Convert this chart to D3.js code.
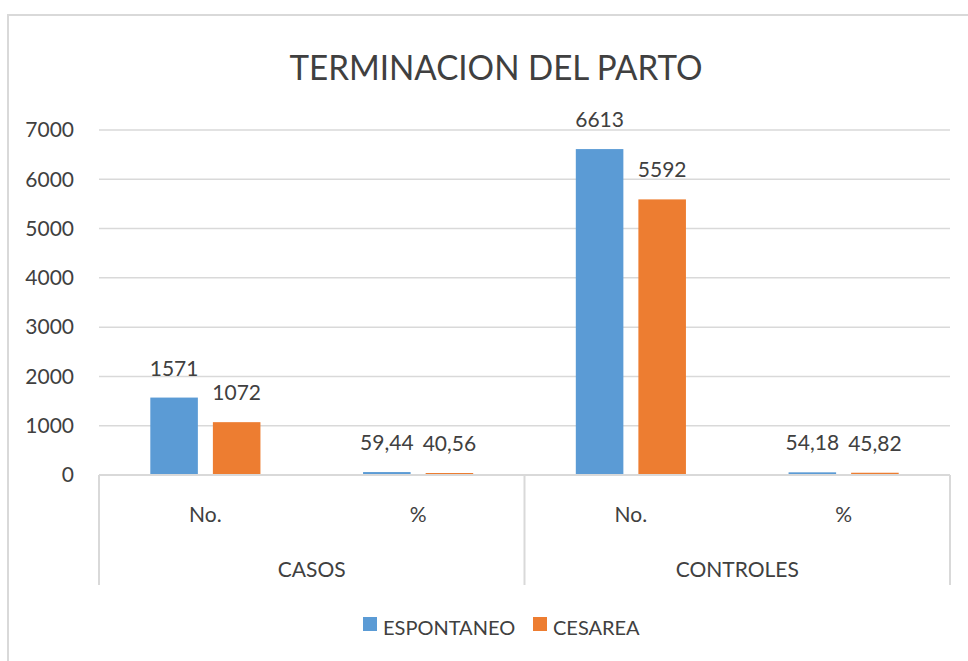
<!DOCTYPE html>
<html>
<head>
<meta charset="utf-8">
<script src="https://cdn.jsdelivr.net/npm/d3@7"></script>
<style>
  body { margin: 0; background: #fff; }
  text { font-family: Lato, "Open Sans", sans-serif; fill: #404040; }
</style>
</head>
<body>
<svg id="chart" width="968" height="661"></svg>
<script>
const groups = ["CASOS", "CONTROLES"];
const subCats = ["No.", "%"];
const series = ["ESPONTANEO", "CESAREA"];
const espontaneo = [1571, 59.44, 6613, 54.18];
const cesarea = [1072, 40.56, 5592, 45.82];
const yTicks = [0, 1000, 2000, 3000, 4000, 5000, 6000, 7000];

const colors = { ESPONTANEO: "#5B9BD5", CESAREA: "#ED7D31" };

const data = [];
groups.forEach((g, gi) => {
    subCats.forEach((s, si) => {
        const k = gi * 2 + si;
        data.push({ group: g, sub: s, ESPONTANEO: espontaneo[k], CESAREA: cesarea[k] });
    });
});

const plotLeft = 99, plotRight = 950, plotTop = 130, plotBottom = 475;

const svg = d3.select("#chart");

// chart frame
svg.append("rect")
    .attr("x", 8).attr("y", 15)
    .attr("width", 1100).attr("height", 800)
    .attr("fill", "none")
    .attr("stroke", "#D9D9D9")
    .attr("stroke-width", 2);

const y = d3.scaleLinear().domain([0, 7000]).range([plotBottom, plotTop]);
const xGroup = d3.scaleBand().domain(groups).range([plotLeft, plotRight]);
const xSub = d3.scaleBand().domain(subCats).range([0, xGroup.bandwidth()]);
const xSeries = d3.scaleBand().domain(series)
    .range([0, xSub.bandwidth()])
    .paddingInner(0.24)
    .paddingOuter(0.82);

// gridlines
svg.append("g")
    .selectAll("line")
    .data(yTicks.filter(d => d > 0))
    .join("line")
    .attr("x1", plotLeft).attr("x2", plotRight)
    .attr("y1", d => y(d)).attr("y2", d => y(d))
    .attr("stroke", "#D9D9D9")
    .attr("stroke-width", 1.5);

// y axis labels
const yAxis = d3.axisLeft(y)
    .tickValues(yTicks)
    .tickFormat(d3.format("d"))
    .tickSize(0)
    .tickPadding(25);
const gy = svg.append("g")
    .attr("transform", `translate(${plotLeft}, 0)`)
    .call(yAxis);
gy.select(".domain").remove();
gy.selectAll("text")
    .attr("font-size", 21)
    .attr("fill", "#404040")
    .style("font-family", "Lato, sans-serif");

// bars
const subG = svg.append("g")
    .selectAll("g")
    .data(data)
    .join("g")
    .attr("transform", d => `translate(${xGroup(d.group) + xSub(d.sub)}, 0)`);

subG.selectAll("rect")
    .data(d => series.map(s => ({ key: s, value: d[s] })))
    .join("rect")
    .attr("x", d => xSeries(d.key))
    .attr("y", d => y(d.value))
    .attr("width", xSeries.bandwidth())
    .attr("height", d => plotBottom - y(d.value))
    .attr("fill", d => colors[d.key]);

subG.selectAll("text.val")
    .data(d => series.map(s => ({ key: s, value: d[s] })))
    .join("text")
    .attr("class", "val")
    .attr("x", d => xSeries(d.key) + xSeries.bandwidth() / 2)
    .attr("y", d => y(d.value) - 22)
    .attr("text-anchor", "middle")
    .attr("font-size", 21)
    .text(d => Number.isInteger(d.value) ? d.value : d.value.toFixed(2).replace(".", ","));

// category axis
svg.append("line")
    .attr("x1", plotLeft).attr("x2", plotRight)
    .attr("y1", plotBottom).attr("y2", plotBottom)
    .attr("stroke", "#D9D9D9")
    .attr("stroke-width", 2);

svg.append("g")
    .selectAll("line")
    .data([plotLeft, xGroup("CONTROLES"), plotRight])
    .join("line")
    .attr("x1", d => d).attr("x2", d => d)
    .attr("y1", plotBottom).attr("y2", 585)
    .attr("stroke", "#D9D9D9")
    .attr("stroke-width", 2);

svg.append("g")
    .selectAll("text")
    .data(data)
    .join("text")
    .attr("x", d => xGroup(d.group) + xSub(d.sub) + xSub.bandwidth() / 2)
    .attr("y", 522)
    .attr("text-anchor", "middle")
    .attr("font-size", 21)
    .text(d => d.sub);

svg.append("g")
    .selectAll("text")
    .data(groups)
    .join("text")
    .attr("x", d => xGroup(d) + xGroup.bandwidth() / 2)
    .attr("y", 577)
    .attr("text-anchor", "middle")
    .attr("font-size", 21)
    .text(d => d);

// title
svg.append("text")
    .attr("x", 496)
    .attr("y", 80)
    .attr("text-anchor", "middle")
    .attr("font-size", 34)
    .attr("textLength", 413)
    .attr("lengthAdjust", "spacingAndGlyphs")
    .text("TERMINACION DEL PARTO");

// legend
const legendX = [363, 533];
const legend = svg.append("g")
    .selectAll("g")
    .data(series)
    .join("g")
    .attr("transform", (d, i) => `translate(${legendX[i]}, 617)`);

legend.append("rect")
    .attr("width", 14).attr("height", 14)
    .attr("fill", d => colors[d]);

legend.append("text")
    .attr("x", 20)
    .attr("y", 18)
    .attr("font-size", 20)
    .text(d => d);
</script>
</body>
</html>
